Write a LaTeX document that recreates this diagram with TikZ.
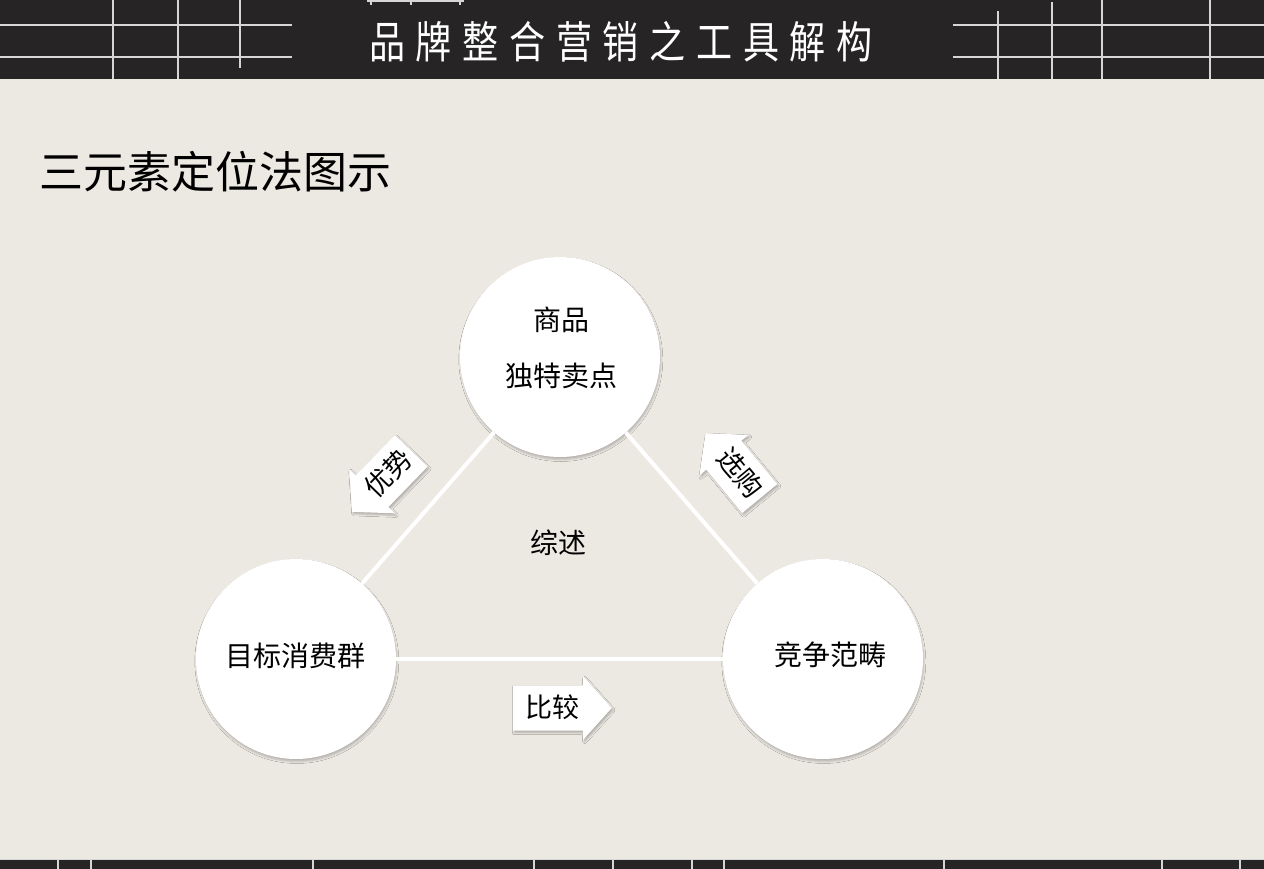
\documentclass[tikz,border=0pt]{standalone}
\usepackage{fontspec}
\newfontfamily\cjk{Noto Sans CJK SC}
\usetikzlibrary{shapes.arrows,shadows.blur}
\definecolor{bgc}{RGB}{236,232,226}
\definecolor{hdr}{RGB}{38,36,37}
\definecolor{hlc}{RGB}{214,214,214}
\begin{document}
\begin{tikzpicture}[x=1pt,y=-1pt,
  bub/.style={circle, fill=white, minimum size=200pt, inner sep=0pt,
    blur shadow={shadow xshift=0.8pt, shadow yshift=-2.5pt, shadow blur radius=2pt, shadow opacity=22}},
  lab/.style={font=\cjk\fontsize{28}{34}\selectfont, inner sep=0pt, text=black},
  barrow/.style={single arrow, fill=white, font=\cjk\fontsize{27}{30}\selectfont,
    text height=22.5pt, text depth=4.5pt, inner ysep=9pt,
    single arrow head extend=9pt, single arrow tip angle=96,
    blur shadow={shadow xshift=1.5pt, shadow yshift=-2pt, shadow blur radius=2pt, shadow opacity=25}},
  conn/.style={white, line width=4pt},
  hl/.style={hlc, line width=2pt},
  sep/.style={hlc, line width=1.5pt}]
\useasboundingbox (0,0) rectangle (1264,869);
\fill[bgc] (0,0) rectangle (1264,869);
% header bar
\fill[hdr] (0,0) rectangle (1264,79);
\draw[hl] (0,25) -- (292,25);
\draw[hl] (0,57) -- (292,57);
\draw[hl] (113,0) -- (113,79);
\draw[hl] (178,0) -- (178,79);
\draw[hl] (240,0) -- (240,68);
\draw[hl] (953,25) -- (1264,25);
\draw[hl] (953,57) -- (1264,57);
\draw[hl] (998,11) -- (998,79);
\draw[hl] (1052,2) -- (1052,79);
\draw[hl] (1102,0) -- (1102,79);
\draw[hl] (1210,0) -- (1210,79);
\draw[hlc, line width=1.5pt] (367,1) -- (464,1);
\draw[hlc, line width=1.5pt] (371,0) -- (371,5);
\draw[hlc, line width=1.5pt] (411,0) -- (411,5);
\draw[hlc, line width=1.5pt] (460,0) -- (460,5);
\node[text=white, font=\cjk\fontsize{44}{44}\selectfont, xscale=0.82, inner sep=0pt] (hdrtitle) at (621,42)
  {品\kern13pt牌\kern13pt整\kern13pt合\kern13pt营\kern13pt销\kern13pt之\kern13pt工\kern13pt具\kern13pt解\kern13pt构};
% footer bar
\fill[hdr] (0,859) rectangle (1264,869);
\draw[hlc, line width=1pt] (0,859) -- (1264,859);
\foreach \sx in {58,91,313,534,613,692,724,944,1162,1240}
  \draw[sep] (\sx,859) -- (\sx,869);
% page title
\node[anchor=west, font=\cjk\fontsize{44}{44}\selectfont, inner sep=0pt] (ptitle) at (39,172) {三元素定位法图示};
% circles
\node[bub] (top) at (560,357) {};
\node[bub] (left) at (296,659) {};
\node[bub] (right) at (823,659) {};
\draw[conn] (top) -- (left);
\draw[conn] (top) -- (right);
\draw[conn] (left) -- (right);
% labels
\node[lab] (t1) at (561,320) {商品};
\node[lab] (t2) at (561,375.5) {独特卖点};
\node[lab] (t3) at (295,655.5) {目标消费群};
\node[lab] (t4) at (830,655) {竞争范畴};
\node[lab] (t5) at (558,543) {综述};
% block arrows
\node[barrow, inner xsep=12pt, anchor=tip] (cmp) at (612,708) {比较};
\node[barrow, inner xsep=5pt, shape border rotate=180, rotate=45.9, anchor=tip] (adv) at (352,512) {优势};
\node[barrow, inner xsep=5pt, shape border rotate=180, rotate=-50.4, anchor=tip] (buy) at (705.5,433) {选购};
\end{tikzpicture}
\end{document}
